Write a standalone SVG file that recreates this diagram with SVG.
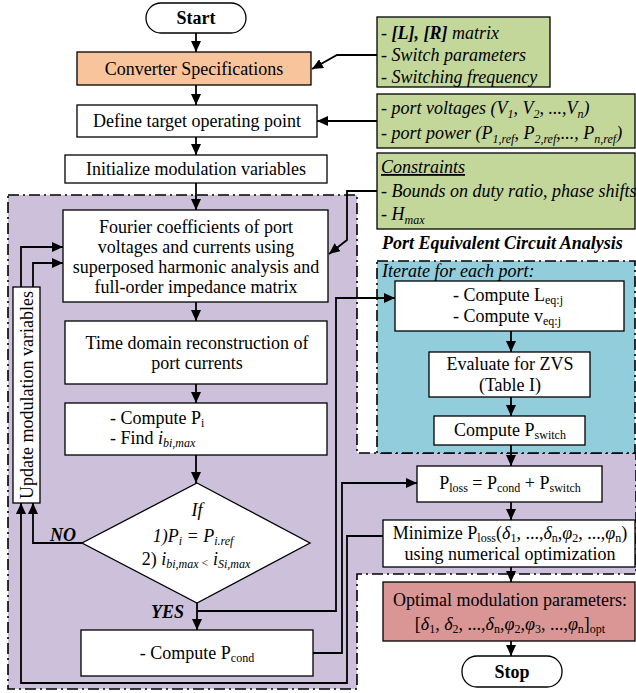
<svg xmlns="http://www.w3.org/2000/svg" width="636" height="693" viewBox="0 0 636 693">
<style>
text{font-family:"Liberation Serif","Times New Roman",Times,serif;font-size:18px;fill:#000}
.c{text-anchor:middle}
.i{font-style:italic}
.b{font-weight:bold}
.s{font-size:12px}
.box{fill:#fff;stroke:#000;stroke-width:1.3}
.grn{fill:#C4D79B;stroke:#000;stroke-width:1.3}
.reg{stroke:#000;stroke-width:1.6;stroke-dasharray:11,4,2,4}
.ln{fill:none;stroke:#000;stroke-width:1.8}
</style>
<defs>
<marker id="ah" markerUnits="userSpaceOnUse" markerWidth="11" markerHeight="10" refX="11" refY="5" orient="auto"><path d="M0,0 L11,5 L0,10 z" fill="#000"/></marker>
</defs>

<g id="regions">
<path class="reg" d="M8,195 H357 V453 H636 V574 H357 V689 H8 Z" fill="#CCC0DA"/>
<rect class="reg" x="377" y="261" width="258" height="192" fill="#92CDDC"/>
</g>

<g id="start"><rect class="box" x="146" y="3" width="100" height="30" rx="15"/><text class="c b" x="196" y="24">Start</text></g>
<g id="converter"><rect x="77" y="52" width="234" height="33" fill="#F8C49B" stroke="#000" stroke-width="1.3"/><text class="c" x="194" y="75">Converter Specifications</text></g>
<g id="define"><rect class="box" x="77" y="105" width="240" height="32"/><text class="c" x="197" y="127">Define target operating point</text></g>
<g id="init"><rect class="box" x="65" y="155" width="262" height="28"/><text class="c" x="196" y="175">Initialize modulation variables</text></g>

<g id="green1"><rect class="grn" x="377" y="17" width="173" height="70"/>
<text class="i" x="381" y="39">- <tspan class="b">[L], [R]</tspan> matrix</text>
<text class="i" x="381" y="61">- Switch parameters</text>
<text class="i" x="381" y="83">- Switching frequency</text></g>
<g id="green2"><rect class="grn" x="377" y="94" width="258" height="54"/>
<text class="i" x="381" y="114">- port voltages (V<tspan class="s" dy="4">1</tspan><tspan dy="-4">, V</tspan><tspan class="s" dy="4">2</tspan><tspan dy="-4">, ...,V</tspan><tspan class="s" dy="4">n</tspan><tspan dy="-4">)</tspan></text>
<text class="i" x="381" y="139">- port power (P<tspan class="s" dy="4">1,ref</tspan><tspan dy="-4">, P</tspan><tspan class="s" dy="4">2,ref</tspan><tspan dy="-4">,..., P</tspan><tspan class="s" dy="4">n,ref</tspan><tspan dy="-4">)</tspan></text></g>
<g id="green3"><rect class="grn" x="377" y="153" width="258" height="76"/>
<text class="i" x="381" y="173" text-decoration="underline">Constraints</text>
<text class="i" x="381" y="197">- Bounds on duty ratio, phase shifts</text>
<text class="i" x="381" y="220">- H<tspan class="s" dy="4">max</tspan></text></g>

<g id="fourier"><rect class="box" x="63" y="210" width="265" height="92"/>
<text class="c" x="196" y="233">Fourier coefficients of port</text>
<text class="c" x="196" y="253">voltages and currents using</text>
<text class="c" x="196" y="273">superposed harmonic analysis and</text>
<text class="c" x="196" y="293">full-order impedance matrix</text></g>
<g id="timedomain"><rect class="box" x="65" y="321" width="262" height="63"/>
<text class="c" x="197" y="349">Time domain reconstruction of</text>
<text class="c" x="197" y="369">port currents</text></g>
<g id="computepi"><rect class="box" x="65" y="403" width="262" height="52"/>
<text x="110" y="424">- Compute P<tspan class="s" dy="3">i</tspan></text>
<text x="110" y="444">- Find <tspan class="i">i</tspan><tspan class="s i" dy="3">bi,max</tspan></text></g>
<g id="decision"><path class="box" d="M197,483 L310,543 L197,603 L82,543 Z"/>
<text class="c i" x="197" y="516">If</text>
<text class="c i" x="193" y="542">1)P<tspan class="s" dy="3">i</tspan><tspan dy="-3"> = P</tspan><tspan class="s" dy="3">i.ref</tspan></text>
<text class="c" x="196" y="565">2) <tspan class="i">i</tspan><tspan class="s i" dy="3">bi,max </tspan><tspan class="s" dy="-1">&lt;</tspan><tspan class="i" dy="-2"> i</tspan><tspan class="s i" dy="3">Si,max</tspan></text>
<text class="b i" x="50" y="541">NO</text>
<text class="b i" x="151" y="618">YES</text></g>
<g id="pcond"><rect class="box" x="81" y="630" width="232" height="46"/>
<text class="c" x="197" y="659">- Compute P<tspan class="s" dy="3">cond</tspan></text></g>
<g id="update"><rect class="box" x="13" y="287" width="27" height="216"/>
<text class="c" transform="translate(33,395) rotate(-90)">Update modulation variables</text></g>

<g id="pecalabel"><text class="b i" x="382" y="249">Port Equivalent Circuit Analysis</text>
<text class="i" x="382" y="277">Iterate for each port:</text></g>
<g id="leq"><rect class="box" x="395" y="281" width="229" height="50"/>
<text x="453" y="301">- Compute L<tspan class="s" dy="3">eq:j</tspan></text>
<text x="453" y="322">- Compute v<tspan class="s" dy="3">eq:j</tspan></text></g>
<g id="zvs"><rect class="box" x="429" y="352" width="161" height="45"/>
<text class="c" x="510" y="370">Evaluate for ZVS</text>
<text class="c" x="510" y="391">(Table I)</text></g>
<g id="pswitch"><rect class="box" x="434" y="416" width="151" height="29"/>
<text class="c" x="510" y="436">Compute P<tspan class="s" dy="3">switch</tspan></text></g>
<g id="ploss"><rect class="box" x="417" y="466" width="185" height="36"/>
<text class="c" x="510" y="489">P<tspan class="s" dy="3">loss</tspan><tspan dy="-3"> = P</tspan><tspan class="s" dy="3">cond</tspan><tspan dy="-3"> + P</tspan><tspan class="s" dy="3">switch</tspan></text></g>
<g id="minimize"><rect class="box" x="383" y="520" width="252" height="47"/>
<text class="c" x="510" y="539">Minimize P<tspan class="s" dy="3">loss</tspan><tspan dy="-3">(</tspan><tspan class="i">δ</tspan><tspan class="s" dy="3">1</tspan><tspan dy="-3">, ...,</tspan><tspan class="i">δ</tspan><tspan class="s" dy="3">n</tspan><tspan dy="-3">,</tspan><tspan class="i">φ</tspan><tspan class="s" dy="3">2</tspan><tspan dy="-3">, ...,</tspan><tspan class="i">φ</tspan><tspan class="s" dy="3">n</tspan><tspan dy="-3">)</tspan></text>
<text class="c" x="510" y="560">using numerical optimization</text></g>
<g id="optimal"><rect x="383" y="582" width="252" height="59" fill="#DA9694" stroke="#000" stroke-width="1.3"/>
<text class="c" x="510" y="606">Optimal modulation parameters:</text>
<text class="c" x="510" y="630">[<tspan class="i">δ</tspan><tspan class="s" dy="3">1</tspan><tspan dy="-3">, </tspan><tspan class="i">δ</tspan><tspan class="s" dy="3">2</tspan><tspan dy="-3">, ...,</tspan><tspan class="i">δ</tspan><tspan class="s" dy="3">n</tspan><tspan dy="-3">,</tspan><tspan class="i">φ</tspan><tspan class="s" dy="3">2</tspan><tspan dy="-3">,</tspan><tspan class="i">φ</tspan><tspan class="s" dy="3">3</tspan><tspan dy="-3">, ...,</tspan><tspan class="i">φ</tspan><tspan class="s" dy="3">n</tspan><tspan dy="-3">]</tspan><tspan class="s" dy="3">opt</tspan></text></g>
<g id="stop"><rect class="box" x="462" y="656" width="100" height="31" rx="15"/><text class="c b" x="512" y="678">Stop</text></g>

<g id="connectors">
<path class="ln" d="M196,33 V52" marker-end="url(#ah)"/>
<path class="ln" d="M196,85 V105" marker-end="url(#ah)"/>
<path class="ln" d="M196,137 V155" marker-end="url(#ah)"/>
<path class="ln" d="M196,183 V210" marker-end="url(#ah)"/>
<path class="ln" d="M196,302 V321" marker-end="url(#ah)"/>
<path class="ln" d="M196,384 V403" marker-end="url(#ah)"/>
<path class="ln" d="M196,455 V483" marker-end="url(#ah)"/>
<path class="ln" d="M197,603 V630" marker-end="url(#ah)"/>
<path class="ln" d="M377,55 H337 L312,69" marker-end="url(#ah)"/>
<path class="ln" d="M377,121 H317" marker-end="url(#ah)"/>
<path class="ln" d="M377,191 H347 V240 L329,254" marker-end="url(#ah)"/>
<path class="ln" d="M21,287 V247 H63" marker-end="url(#ah)"/>
<path class="ln" d="M33,287 V263 H63" marker-end="url(#ah)"/>
<path class="ln" d="M82,543 H33 V503" marker-end="url(#ah)"/>
<path class="ln" d="M383,536 H347 V683 H21 V503" marker-end="url(#ah)"/>
<path class="ln" d="M197,611 H336 V298 H395" marker-end="url(#ah)"/>
<path class="ln" d="M313,653 H342 V483 H417" marker-end="url(#ah)"/>
<path class="ln" d="M511,331 V352" marker-end="url(#ah)"/>
<path class="ln" d="M511,397 V416" marker-end="url(#ah)"/>
<path class="ln" d="M511,445 V466" marker-end="url(#ah)"/>
<path class="ln" d="M511,502 V520" marker-end="url(#ah)"/>
<path class="ln" d="M511,567 V582" marker-end="url(#ah)"/>
<path class="ln" d="M511,641 V656" marker-end="url(#ah)"/>
</g>
</svg>
